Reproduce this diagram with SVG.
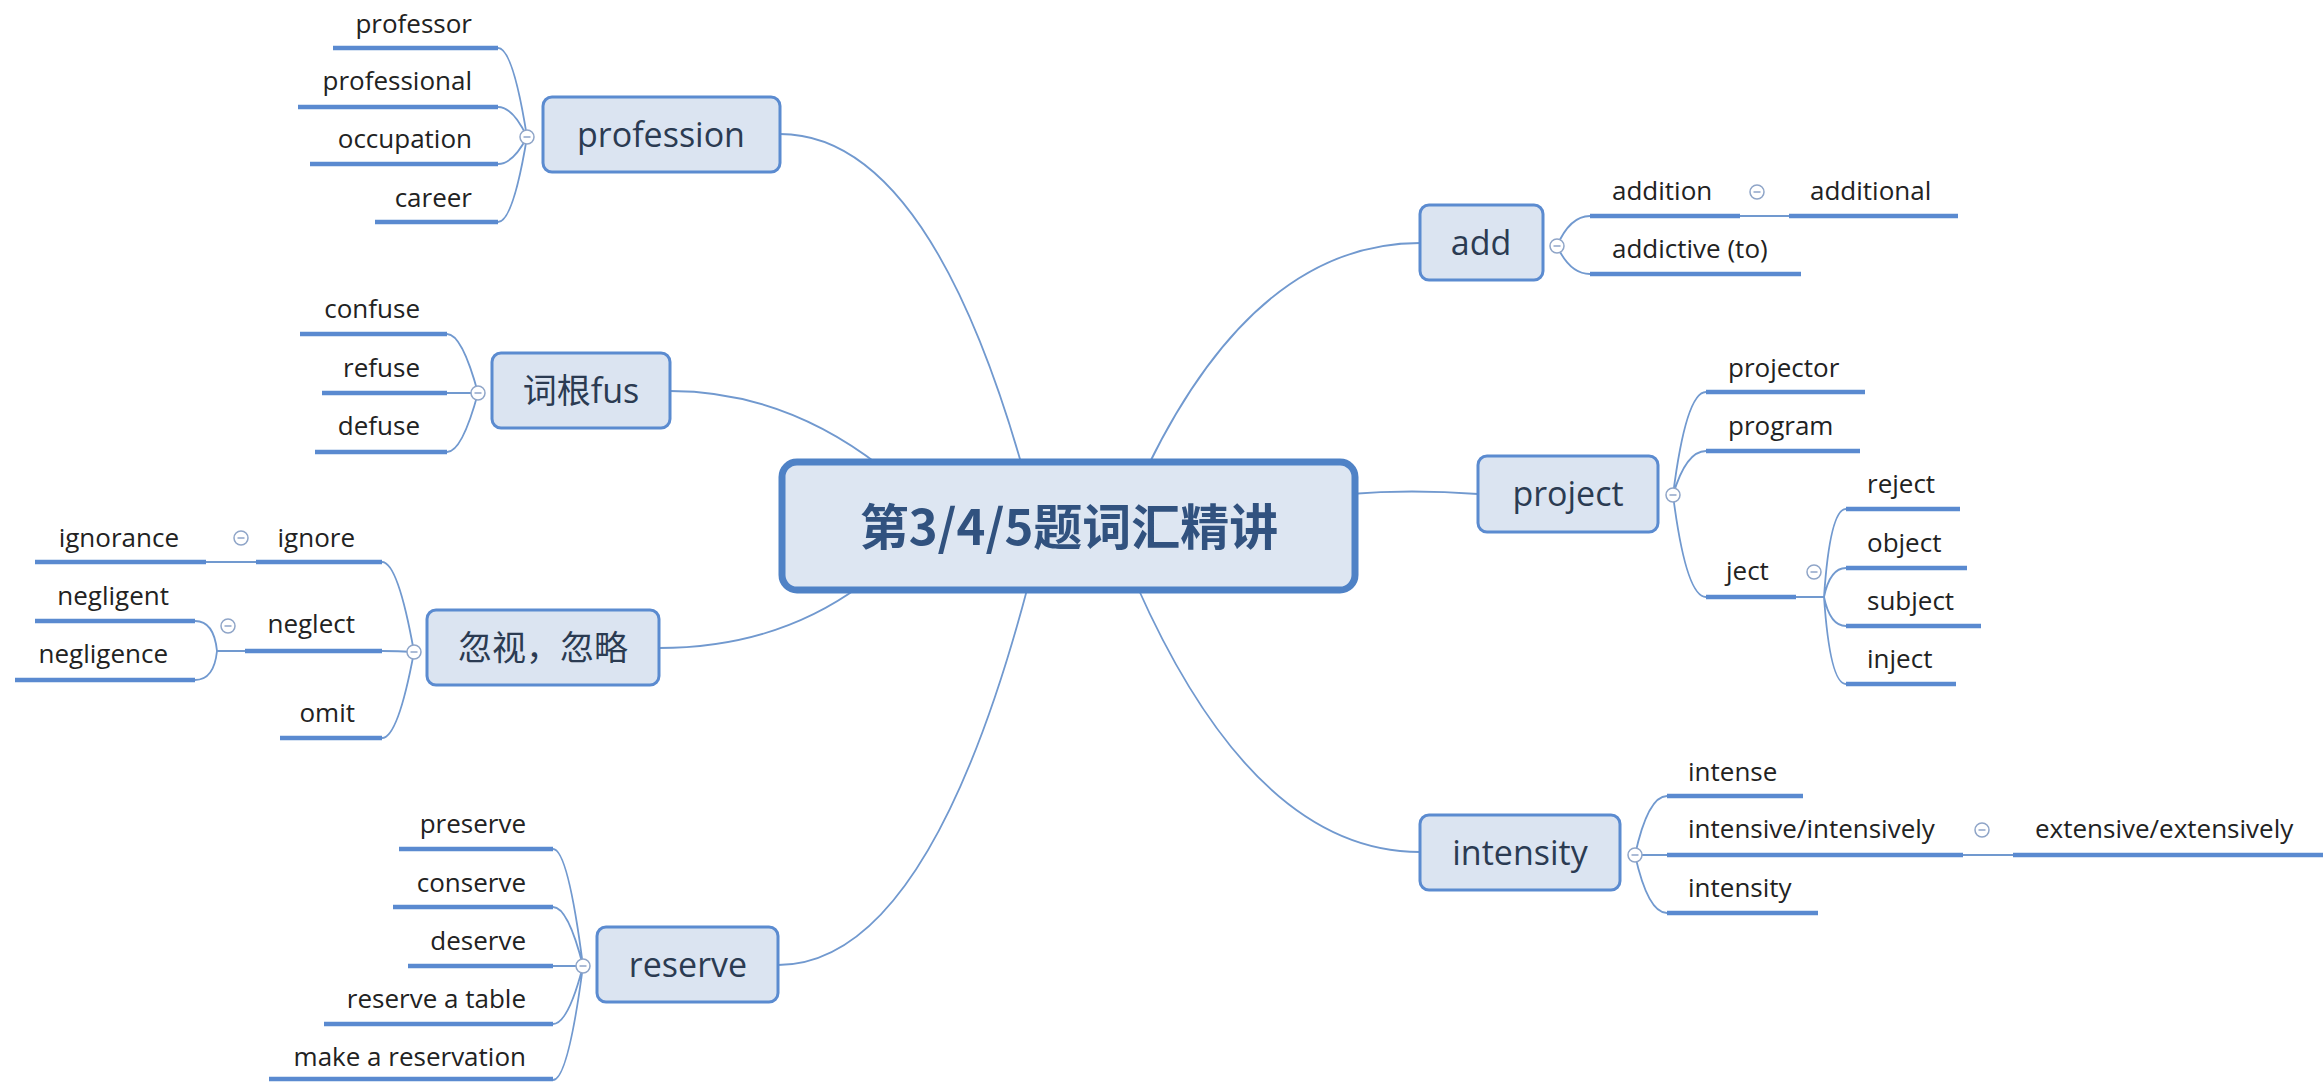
<svg xmlns="http://www.w3.org/2000/svg" xmlns:xlink="http://www.w3.org/1999/xlink" width="2323" height="1082" viewBox="0 0 2323 1082">
<style>
.conn{fill:none;stroke:#7199cf;stroke-width:1.8}
.ul{stroke:#5a8ad0;stroke-width:4.5}
.sub{font-family:"Open Sans","Noto Sans CJK SC",sans-serif;font-size:26px;fill:#222}
.l{text-anchor:end}
.mainbox{fill:#dbe4f1;stroke:#5b8bd0;stroke-width:3}
.maintext{font-family:"Open Sans","Noto Sans CJK SC",sans-serif;font-size:34px;fill:#2b3b52;text-anchor:middle}
.rootbox{fill:#dde6f2;stroke:#4f82c6;stroke-width:7}
.roottext{font-family:"Noto Sans CJK SC",sans-serif;font-weight:bold;font-size:49px;fill:#31527f;text-anchor:middle}
.tg circle{fill:#fff;stroke:#8fa5c8;stroke-width:1.5}
.tg line{stroke:#8fa5c8;stroke-width:1.5}
</style>
<defs>
<g id="tog" class="tg"><circle cx="0" cy="0" r="7"/><line x1="-3.5" y1="0" x2="3.5" y2="0"/></g>
</defs>
<rect width="2323" height="1082" fill="#fff"/>
<g id="connectors">
<path class="conn" d="M780,134 Q927,134 1022,466"/>
<path class="conn" d="M670,391 Q783,391 880,466"/>
<path class="conn" d="M659,648 Q775,648 860,586"/>
<path class="conn" d="M778,965 Q928,965 1028,586"/>
<path class="conn" d="M1420,243 Q1257,243 1148,466"/>
<path class="conn" d="M1478,494 Q1410,489 1350,494"/>
<path class="conn" d="M1420,852 Q1255,852 1137,586"/>
<path class="conn" d="M527,137 Q513,48 498,48 M527,137 Q513,107 498,107 M527,137 Q513,164 498,164 M527,137 Q513,222 498,222"/>
<path class="conn" d="M478,393 Q462,334 447,334 M478,393 L447,393 M478,393 Q462,452 447,452"/>
<path class="conn" d="M414,652 Q398,562 382,562 M414,652 Q398,651 382,651 M414,652 Q398,738 382,738"/>
<path class="conn" d="M256,562 L206,562"/>
<path class="conn" d="M245,651 L217,651 M217,651 Q214,621 195,621 M217,651 Q214,680 195,680"/>
<path class="conn" d="M583,966 Q568,849 553,849 M583,966 Q568,907 553,907 M583,966 L553,966 M583,966 Q568,1024 553,1024 M583,966 Q568,1080 553,1080"/>
<path class="conn" d="M1557,246 Q1570,216 1590,216 M1557,246 Q1570,274 1590,274"/>
<path class="conn" d="M1740,216 L1789,216"/>
<path class="conn" d="M1673,495 Q1686,392 1706,392 M1673,495 Q1686,451 1706,451 M1673,495 Q1686,597 1706,597"/>
<path class="conn" d="M1796,597 L1824,597 M1824,597 Q1830,509 1846,509 M1824,597 Q1830,568 1846,568 M1824,597 Q1830,626 1846,626 M1824,597 Q1830,684 1846,684"/>
<path class="conn" d="M1635,855 Q1648,796 1667,796 M1635,855 L1667,855 M1635,855 Q1648,913 1667,913"/>
<path class="conn" d="M1963,855 L2013,855"/>
</g>
<g id="root"><rect class="rootbox" x="782" y="462" width="573" height="128" rx="15"/><text class="roottext" x="1069" y="545">第3/4/5题词汇精讲</text></g>
<g id="profession"><rect class="mainbox" x="543" y="97" width="237" height="75" rx="9"/><text class="maintext" x="661" y="147">profession</text><use href="#tog" x="527" y="137"/></g>
<g id="cigenfus"><rect class="mainbox" x="492" y="353" width="178" height="75" rx="9"/><text class="maintext" x="581" y="403">词根fus</text><use href="#tog" x="478" y="393"/></g>
<g id="hushi"><rect class="mainbox" x="427" y="610" width="232" height="75" rx="9"/><text class="maintext" x="543" y="660">忽视，忽略</text><use href="#tog" x="414" y="652"/></g>
<g id="reserve"><rect class="mainbox" x="597" y="927" width="181" height="75" rx="9"/><text class="maintext" x="688" y="977">reserve</text><use href="#tog" x="583" y="966"/></g>
<g id="add"><rect class="mainbox" x="1420" y="205" width="123" height="75" rx="9"/><text class="maintext" x="1481" y="255">add</text><use href="#tog" x="1557" y="246"/></g>
<g id="project"><rect class="mainbox" x="1478" y="456" width="180" height="76" rx="9"/><text class="maintext" x="1568" y="506">project</text><use href="#tog" x="1673" y="495"/></g>
<g id="intensity"><rect class="mainbox" x="1420" y="815" width="200" height="75" rx="9"/><text class="maintext" x="1520" y="865">intensity</text><use href="#tog" x="1635" y="855"/></g>
<g id="professor"><line class="ul" x1="333" y1="48" x2="498" y2="48"/><text class="sub l" x="472" y="33">professor</text></g>
<g id="professional"><line class="ul" x1="298" y1="107" x2="498" y2="107"/><text class="sub l" x="472" y="90">professional</text></g>
<g id="occupation"><line class="ul" x1="310" y1="164" x2="498" y2="164"/><text class="sub l" x="472" y="148">occupation</text></g>
<g id="career"><line class="ul" x1="375" y1="222" x2="498" y2="222"/><text class="sub l" x="472" y="207">career</text></g>
<g id="confuse"><line class="ul" x1="300" y1="334" x2="447" y2="334"/><text class="sub l" x="420" y="318">confuse</text></g>
<g id="refuse"><line class="ul" x1="322" y1="393" x2="447" y2="393"/><text class="sub l" x="420" y="377">refuse</text></g>
<g id="defuse"><line class="ul" x1="315" y1="452" x2="447" y2="452"/><text class="sub l" x="420" y="435">defuse</text></g>
<g id="ignore"><line class="ul" x1="256" y1="562" x2="382" y2="562"/><text class="sub l" x="355" y="547">ignore</text><use href="#tog" x="241" y="538"/></g>
<g id="ignorance"><line class="ul" x1="35" y1="562" x2="206" y2="562"/><text class="sub l" x="179" y="547">ignorance</text></g>
<g id="neglect"><line class="ul" x1="245" y1="651" x2="382" y2="651"/><text class="sub l" x="355" y="633">neglect</text><use href="#tog" x="228" y="626"/></g>
<g id="negligent"><line class="ul" x1="35" y1="621" x2="195" y2="621"/><text class="sub l" x="169" y="605">negligent</text></g>
<g id="negligence"><line class="ul" x1="15" y1="680" x2="195" y2="680"/><text class="sub l" x="168" y="663">negligence</text></g>
<g id="omit"><line class="ul" x1="280" y1="738" x2="382" y2="738"/><text class="sub l" x="355" y="722">omit</text></g>
<g id="preserve"><line class="ul" x1="399" y1="849" x2="553" y2="849"/><text class="sub l" x="526" y="833">preserve</text></g>
<g id="conserve"><line class="ul" x1="393" y1="907" x2="553" y2="907"/><text class="sub l" x="526" y="892">conserve</text></g>
<g id="deserve"><line class="ul" x1="408" y1="966" x2="553" y2="966"/><text class="sub l" x="526" y="950">deserve</text></g>
<g id="reserveatable"><line class="ul" x1="324" y1="1024" x2="553" y2="1024"/><text class="sub l" x="526" y="1008">reserve a table</text></g>
<g id="makeareservation"><line class="ul" x1="269" y1="1079" x2="553" y2="1079"/><text class="sub l" x="526" y="1066">make a reservation</text></g>
<g id="addition"><line class="ul" x1="1590" y1="216" x2="1740" y2="216"/><text class="sub" x="1612" y="200">addition</text><use href="#tog" x="1757" y="192"/></g>
<g id="additional"><line class="ul" x1="1789" y1="216" x2="1958" y2="216"/><text class="sub" x="1810" y="200">additional</text></g>
<g id="addictive"><line class="ul" x1="1590" y1="274" x2="1801" y2="274"/><text class="sub" x="1612" y="258">addictive (to)</text></g>
<g id="projector"><line class="ul" x1="1706" y1="392" x2="1865" y2="392"/><text class="sub" x="1728" y="377">projector</text></g>
<g id="program"><line class="ul" x1="1706" y1="451" x2="1860" y2="451"/><text class="sub" x="1728" y="435">program</text></g>
<g id="ject"><line class="ul" x1="1706" y1="597" x2="1796" y2="597"/><text class="sub" x="1726" y="580">ject</text><use href="#tog" x="1814" y="572"/></g>
<g id="reject"><line class="ul" x1="1846" y1="509" x2="1960" y2="509"/><text class="sub" x="1867" y="493">reject</text></g>
<g id="object"><line class="ul" x1="1846" y1="568" x2="1967" y2="568"/><text class="sub" x="1867" y="552">object</text></g>
<g id="subject"><line class="ul" x1="1846" y1="626" x2="1981" y2="626"/><text class="sub" x="1867" y="610">subject</text></g>
<g id="inject"><line class="ul" x1="1846" y1="684" x2="1956" y2="684"/><text class="sub" x="1867" y="668">inject</text></g>
<g id="intense"><line class="ul" x1="1667" y1="796" x2="1803" y2="796"/><text class="sub" x="1688" y="781">intense</text></g>
<g id="intensive"><line class="ul" x1="1667" y1="855" x2="1963" y2="855"/><text class="sub" x="1688" y="838">intensive/intensively</text><use href="#tog" x="1982" y="830"/></g>
<g id="intensity2"><line class="ul" x1="1667" y1="913" x2="1818" y2="913"/><text class="sub" x="1688" y="897">intensity</text></g>
<g id="extensive"><line class="ul" x1="2013" y1="855" x2="2323" y2="855"/><text class="sub" x="2035" y="838">extensive/extensively</text></g>
</svg>
